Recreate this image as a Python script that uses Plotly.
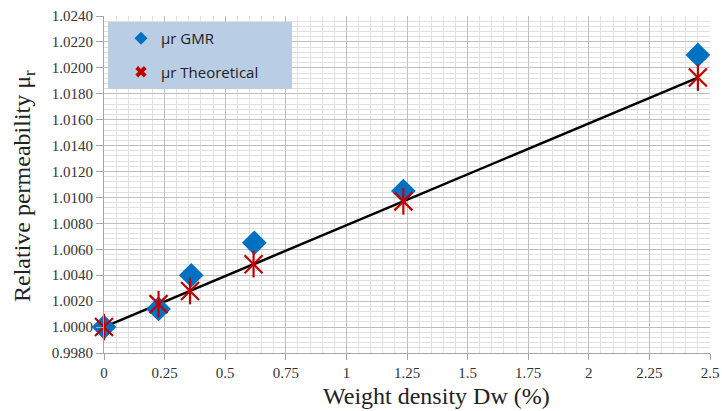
import plotly.graph_objects as go

# Data
dw_gmr = [0.0, 0.225, 0.36, 0.62, 1.235, 2.45]
mu_gmr = [1.0000, 1.0014, 1.0040, 1.0065, 1.0105, 1.0210]
dw_theo = [0.0, 0.225, 0.355, 0.617, 1.235, 2.45]
mu_theo = [1.0000, 1.00177, 1.00278, 1.00485, 1.00970, 1.01925]

x_tickvals = [0, 0.25, 0.5, 0.75, 1, 1.25, 1.5, 1.75, 2, 2.25, 2.5]
x_ticktext = ["0", "0.25", "0.5", "0.75", "1", "1.25", "1.5", "1.75", "2", "2.25", "2.5"]

SERIF = "Liberation Serif"
SANS = "Open Sans"
BLUE = "#0070c0"
RED = "#c00000"

fig = go.Figure()

# trend line through theoretical values
fig.add_trace(go.Scatter(
    x=dw_theo, y=mu_theo, mode="lines", cliponaxis=False,
    line=dict(color="black", width=2.5), showlegend=False, hoverinfo="skip"))

fig.add_trace(go.Scatter(
    x=dw_gmr, y=mu_gmr, mode="markers", name="μr GMR", showlegend=False,
    cliponaxis=False,
    marker=dict(symbol="diamond", size=19, color=BLUE)))

fig.add_trace(go.Scatter(
    x=dw_theo, y=mu_theo, mode="markers", name="μr Theoretical", showlegend=False,
    cliponaxis=False,
    marker=dict(symbol="x-thin-open", size=18, color=RED,
                line=dict(color=RED, width=2.2))))
fig.add_trace(go.Scatter(
    x=dw_theo, y=mu_theo, mode="markers", showlegend=False, cliponaxis=False,
    marker=dict(symbol="line-ns-open", size=19, color=RED,
                line=dict(color=RED, width=2.2))))

# legend entries (small symbols as in the reference legend)
fig.add_trace(go.Scatter(
    x=[None], y=[None], mode="markers", name="μr GMR", legendgroup="a",
    marker=dict(symbol="diamond", size=10, color=BLUE)))
fig.add_trace(go.Scatter(
    x=[None], y=[None], mode="markers", name="μr Theoretical", legendgroup="b",
    marker=dict(symbol="x", size=10, color=RED, line=dict(width=0))))

W, H = 722, 411
L, R, T, B = 104, 12, 16, 58
pw, ph = W - L - R, H - T - B


def px(xp):
    return (xp - L) / pw


def py(yp):
    return 1 - (yp - T) / ph


fig.update_layout(
    width=W, height=H,
    margin=dict(l=L, r=R, t=T, b=B, autoexpand=False),
    paper_bgcolor="white", plot_bgcolor="white",
    showlegend=True,
    legend=dict(
        x=px(121), y=py(22), xanchor="left", yanchor="top",
        bgcolor="rgba(0,0,0,0)", borderwidth=0,
        font=dict(family=SANS, size=15, color="#222222"),
        tracegroupgap=11, itemwidth=30,
    ),
    shapes=[dict(
        type="rect", xref="paper", yref="paper",
        x0=px(108), x1=px(292), y0=py(89), y1=py(22),
        fillcolor="#b9cde5", line=dict(width=0), layer="above")],
    xaxis=dict(
        range=[0, 2.5], tickvals=x_tickvals, ticktext=x_ticktext,
        showgrid=True, gridcolor="#bfbfbf", gridwidth=1,
        minor=dict(dtick=0.05, showgrid=True, gridcolor="#e0e0e0", gridwidth=1),
        showline=True, linecolor="#a6a6a6", linewidth=1,
        ticks="outside", ticklen=6, tickcolor="#a6a6a6",
        tickfont=dict(family=SERIF, size=15, color="#333333"),
        zeroline=False, automargin=False,
    ),
    yaxis=dict(
        range=[0.998, 1.024], dtick=0.002, tick0=0.998, tickformat=".4f",
        showgrid=True, gridcolor="#bfbfbf", gridwidth=1,
        minor=dict(dtick=0.0004, tick0=0.998, showgrid=True, gridcolor="#e0e0e0", gridwidth=1),
        showline=True, linecolor="#a6a6a6", linewidth=1,
        ticks="outside", ticklen=7, tickcolor="#a6a6a6",
        tickfont=dict(family=SERIF, size=15, color="#333333"),
        zeroline=False, automargin=False,
    ),
    annotations=[
        dict(text="Weight density Dw (%)", xref="paper", yref="paper",
             x=px(436), y=py(396), xanchor="center", yanchor="middle",
             showarrow=False, font=dict(family=SERIF, size=24, color="#222222")),
        dict(text="Relative permeability μ<sub>r</sub>", xref="paper", yref="paper",
             x=px(24), y=py(186), xanchor="center", yanchor="middle", textangle=-90,
             showarrow=False, font=dict(family=SERIF, size=24, color="#222222")),
    ],
)

fig.write_html(
    "out.html",
    config={"displayModeBar": False},
    post_script="document.body.style.margin='0';document.body.style.overflow='hidden';",
)
